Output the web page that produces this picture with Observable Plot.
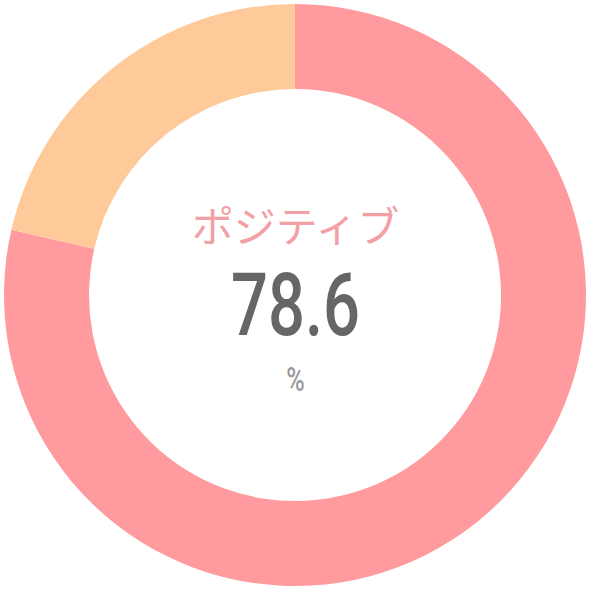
<!DOCTYPE html>
<html>
<head>
<meta charset="utf-8">
<script src="https://cdn.jsdelivr.net/npm/d3@7"></script>
<script src="https://cdn.jsdelivr.net/npm/@observablehq/plot@0.6"></script>
<style>
  html, body { margin: 0; padding: 0; background: #fff; }
</style>
</head>
<body>
<div id="chart"></div>
<script>
// Data
const categories = ["ポジティブ", "その他"];
const values = [78.6, 21.4];
const colors = ["#ff9b9e", "#ffca9a"];
const centerLabel = "ポジティブ";
const centerValue = "78.6";
const centerUnit = "%";

const slices = categories.map((c, i) => ({category: c, value: values[i]}));

const outerR = 291, innerR = 206;

function donutMark(index, scales, vals, dimensions) {
  const cx = scales.x(0), cy = scales.y(0);
  const k = scales.x(1) - scales.x(0);
  const pie = d3.pie().sort(null).value(d => d.value)(slices);
  const arc = d3.arc().innerRadius(innerR * k).outerRadius(outerR * k);
  const g = d3.create("svg:g").attr("transform", `translate(${cx},${cy})`);
  g.selectAll("path").data(pie).join("path")
    .attr("d", arc)
    .attr("fill", d => scales.color(d.data.category));
  return g.node();
}

const plot = Plot.plot({
  width: 590,
  height: 590,
  margin: 0,
  x: {domain: [-295, 295], axis: null},
  y: {domain: [-295, 295], axis: null},
  color: {domain: categories, range: colors},
  style: {background: "#fff"},
  marks: [
    donutMark,
    Plot.text([centerLabel], {x: 0, y: 67, text: d => d, fill: "#f2a0a6",
      fontSize: 42, fontWeight: 400, fontFamily: "'Noto Sans CJK JP', sans-serif"}),
    Plot.text([centerValue], {x: 0, y: -11, text: d => d, fill: "#666666",
      fontSize: 88, fontWeight: 500, fontFamily: "Roboto, sans-serif", className: "cond"}),
    Plot.text([centerUnit], {x: 0, y: -85, text: d => d, fill: "#9a9a9a",
      fontSize: 34, fontWeight: 500, fontFamily: "Roboto, sans-serif", className: "cond"})
  ]
});
document.getElementById("chart").appendChild(plot);
// condense numeric labels horizontally around their anchor
d3.select(plot).selectAll("g.cond text").each(function() {
  const t = this.getAttribute("transform") || "";
  this.setAttribute("transform", (t + " scale(0.74,1)").trim());
});
</script>
</body>
</html>
